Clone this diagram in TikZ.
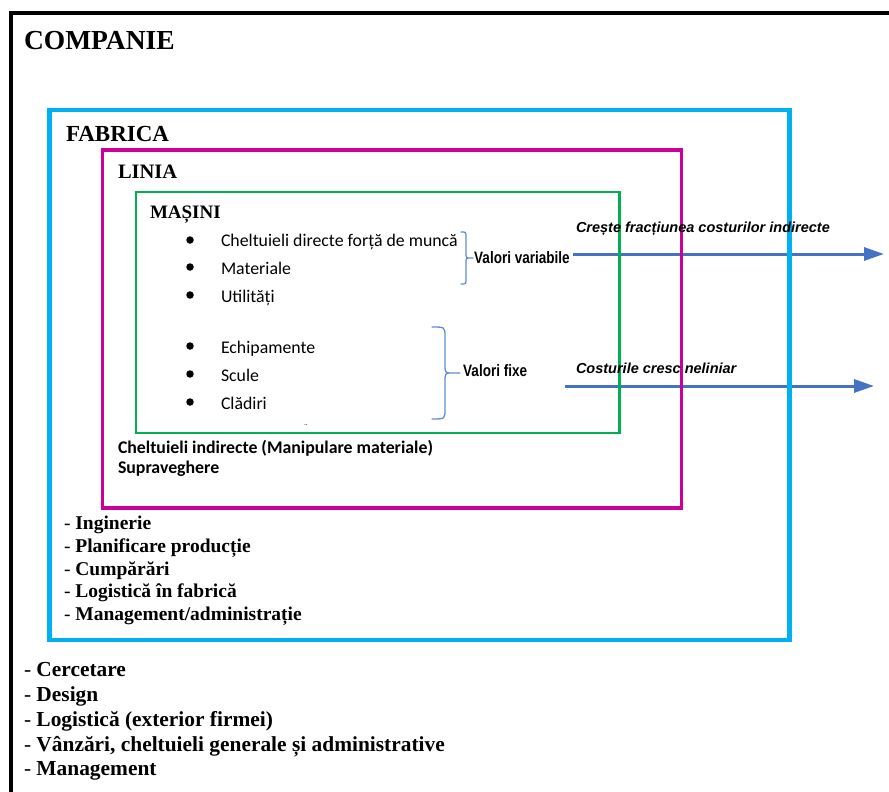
\documentclass[tikz,border=0pt]{standalone}
\usepackage{fontspec}
\setmainfont{Liberation Serif}
\newfontfamily\calibrifont{Carlito}
\newfontfamily\arialfont{Liberation Sans}
\newfontfamily\narrowfont[FakeStretch=0.82]{Liberation Sans}
\usetikzlibrary{arrows.meta}

\definecolor{companyblack}{RGB}{0,0,0}
\definecolor{factoryblue}{RGB}{0,176,240}
\definecolor{linemagenta}{RGB}{204,0,153}
\definecolor{machinegreen}{RGB}{0,176,80}
\definecolor{arrowblue}{RGB}{68,114,196}
\definecolor{braceblue}{RGB}{95,140,210}

\newcommand{\fsz}[1]{\fontsize{#1}{#1}\selectfont}

\tikzset{
  txt/.style={anchor=base west, inner sep=0pt, outer sep=0pt},
  heading/.style={txt, font=\bfseries\fsz{#1}},
  item/.style={txt, font=\calibrifont\fsz{17.8}},
  itembold/.style={txt, font=\calibrifont\bfseries\fsz{17.8}},
  listline/.style={txt, font=\fsz{#1}},
  brlabel/.style={anchor=west, inner sep=0pt, font=\narrowfont\bfseries\fsz{16.5}},
  arrlabel/.style={txt, font=\arialfont\bfseries\itshape\fsz{14.5}},
  dot/.style={circle, fill=black, inner sep=0pt, minimum size=7.5pt},
  costarrow/.style={draw=arrowblue, line width=3pt, -{Triangle[length=20pt,width=13pt]}},
  bracepath/.style={draw=braceblue, line width=1.3pt, line cap=round},
}

\begin{document}
\begin{tikzpicture}[x=1pt, y=-1pt]
\useasboundingbox (0,0) rectangle (889,792);

% cost arrows (drawn under the frames)
\coordinate (varstart) at (573,254);
\coordinate (varend)   at (884,254);
\coordinate (fixstart) at (565,386);
\coordinate (fixend)   at (874,386);
\draw[costarrow] (varstart) -- (varend);
\draw[costarrow] (fixstart) -- (fixend);

% nested frames
\draw[companyblack, line width=4.5pt] (11,792) -- (11,13) -- (889,13);
\draw[factoryblue, line width=4.5pt] (49.5,110) rectangle (789.5,640);
\draw[linemagenta, line width=3.5pt] (102.5,150) rectangle (681.5,508);
\draw[machinegreen, line width=2.5pt] (136,192) rectangle (619.5,433);

% headings
\node[heading=27.5] (companie) at (24,50) {COMPANIE};
\node[heading=23] (fabrica) at (66,141) {FABRICA};
\node[heading=20.5] (linia) at (118,178) {LINIA};
\node[heading=19] (masini) at (150,218) {MAȘINI};

% machine-level cost items
\node[dot] (d1) at (190,240) {};
\node[dot] (d2) at (190,267) {};
\node[dot] (d3) at (190,295) {};
\node[dot] (d4) at (190,346) {};
\node[dot] (d5) at (190,374) {};
\node[dot] (d6) at (190,402) {};
\node[item] (i1) at (221,246) {Cheltuieli directe forță de muncă};
\node[item] (i2) at (221,274) {Materiale};
\node[item] (i3) at (221,302) {Utilități};
\node[item] (i4) at (221,353) {Echipamente};
\node[item] (i5) at (221,381) {Scule};
\node[item] (i6) at (221,409) {Clădiri};
\node[txt, font=\calibrifont\fsz{9}, text=black!70] (stray) at (304,430) {¨};

% braces
\draw[bracepath] (461,232) .. controls (466,232) .. (466,237) -- (466,252)
  .. controls (466,258) .. (470,258) -- (473,258)
  (470,258) .. controls (466,258) .. (466,264) -- (466,279)
  .. controls (466,284) .. (461,284);
\draw[bracepath] (432,327) .. controls (445,327) .. (445,337) -- (445,363)
  .. controls (445,373) .. (452,373) -- (460,373)
  (452,373) .. controls (445,373) .. (445,383) -- (445,409)
  .. controls (445,419) .. (432,419);
\node[brlabel] (varlabel) at (474,258) {Valori variabile};
\node[brlabel] (fixlabel) at (463,371) {Valori fixe};

% arrow captions
\node[arrlabel] (varcap) at (576,232) {Crește fracțiunea costurilor indirecte};
\node[arrlabel] (fixcap) at (576,373) {Costurile cresc neliniar};

% line-level costs
\node[itembold] (ind1) at (118,453) {Cheltuieli indirecte (Manipulare materiale)};
\node[itembold] (ind2) at (118,473) {Supraveghere};

% factory-level costs
\node[listline=19.5] (f1) at (64,529) {- \textbf{Inginerie}};
\node[listline=19.5] (f2) at (64,552) {- \textbf{Planificare producție}};
\node[listline=19.5] (f3) at (64,575) {- \textbf{Cumpărări}};
\node[listline=19.5] (f4) at (64,597) {- \textbf{Logistică în fabrică}};
\node[listline=19.5] (f5) at (64,620) {- \textbf{Management/administrație}};

% company-level costs
\node[listline=21.4] (c1) at (24,676) {- \textbf{Cercetare}};
\node[listline=21.4] (c2) at (24,701) {- \textbf{Design}};
\node[listline=21.4] (c3) at (24,726) {- \textbf{Logistică (exterior firmei)}};
\node[listline=21.4] (c4) at (24,751) {- \textbf{Vânzări, cheltuieli generale și administrative}};
\node[listline=21.4] (c5) at (24,775) {- \textbf{Management}};
\end{tikzpicture}
\end{document}
